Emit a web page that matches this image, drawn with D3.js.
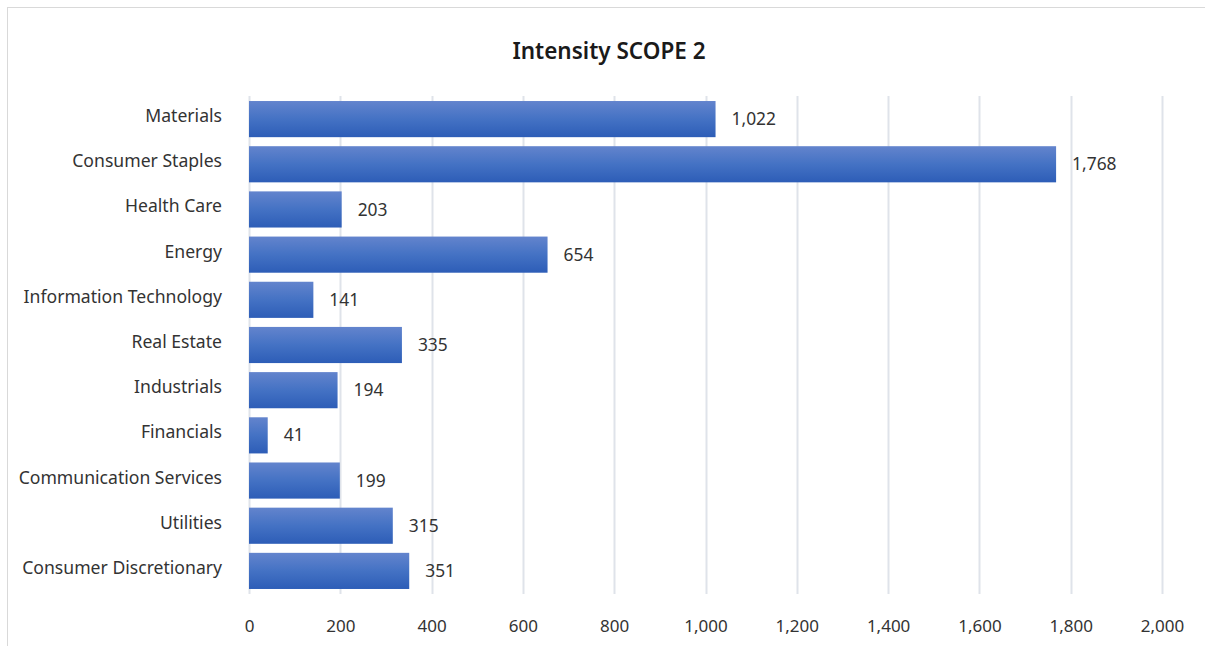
<!DOCTYPE html>
<html>
<head>
<meta charset="utf-8">
<script src="https://cdn.jsdelivr.net/npm/d3@7/dist/d3.min.js"></script>
<style>
  html, body { margin: 0; padding: 0; background: #ffffff; }
  svg { display: block; }
</style>
</head>
<body>
<svg id="chart" width="1205" height="646"></svg>
<script>
const categories = ["Materials", "Consumer Staples", "Health Care", "Energy", "Information Technology", "Real Estate", "Industrials", "Financials", "Communication Services", "Utilities", "Consumer Discretionary"];
const values = [1022, 1768, 203, 654, 141, 335, 194, 41, 199, 315, 351];
const tickValues = [0, 200, 400, 600, 800, 1000, 1200, 1400, 1600, 1800, 2000];
const title = "Intensity SCOPE 2";

const FONT = "'Noto Sans', 'Open Sans', sans-serif";
const TXT = "#333333";
const svg = d3.select("#chart");

// outer border (chart area frame)
svg.append("rect")
  .attr("x", 7.5).attr("y", 7.5)
  .attr("width", 1205).attr("height", 660)
  .attr("fill", "#ffffff")
  .attr("stroke", "#d9d9d9").attr("stroke-width", 1);

const x = d3.scaleLinear().domain([0, 2000]).range([249, 1162]);
const y = d3.scaleBand().domain(categories).range([96.5, 593.5]).paddingInner(0.2).paddingOuter(0.1);

// gradient
const defs = svg.append("defs");
const grad = defs.append("linearGradient").attr("id", "barGrad")
  .attr("x1", 0).attr("y1", 0).attr("x2", 0).attr("y2", 1);
grad.append("stop").attr("offset", "0%").attr("stop-color", "#6384cd");
grad.append("stop").attr("offset", "50%").attr("stop-color", "#4472c4");
grad.append("stop").attr("offset", "100%").attr("stop-color", "#2d5db7");

// gridlines
svg.append("g").selectAll("line").data(tickValues).join("line")
  .attr("x1", d => Math.round(x(d)) + 0.5).attr("x2", d => Math.round(x(d)) + 0.5)
  .attr("y1", 96).attr("y2", 594)
  .attr("stroke", "#dfe3ea").attr("stroke-width", 2);

// x axis labels
const xAxis = d3.axisBottom(x).tickValues(tickValues).tickSize(0).tickFormat(d3.format(","));
const gx = svg.append("g").attr("transform", "translate(0,617)").call(xAxis);
gx.select(".domain").remove();
gx.selectAll("text").attr("font-family", FONT).attr("font-size", 17).attr("fill", TXT);

// y axis labels
const yAxis = d3.axisLeft(y).tickSize(0).tickPadding(0);
const gy = svg.append("g").attr("transform", "translate(222,0)").call(yAxis);
gy.select(".domain").remove();
gy.selectAll("text").attr("font-family", FONT).attr("font-size", 17.6).attr("fill", TXT).attr("dy", "0.17em");

// bars
svg.append("g").selectAll("rect").data(categories).join("rect")
  .attr("x", x(0))
  .attr("y", d => y(d))
  .attr("width", (d, i) => x(values[i]) - x(0))
  .attr("height", y.bandwidth())
  .attr("fill", "url(#barGrad)");

// data labels
svg.append("g").selectAll("text").data(categories).join("text")
  .attr("x", (d, i) => x(values[i]) + 16)
  .attr("y", d => y(d) + y.bandwidth() / 2)
  .attr("dy", "0.35em")
  .attr("font-family", FONT).attr("font-size", 17.4).attr("fill", TXT)
  .text((d, i) => d3.format(",")(values[i]));

// title
svg.append("text")
  .attr("x", 609).attr("y", 51)
  .attr("text-anchor", "middle").attr("dy", "0.35em")
  .attr("font-family", FONT).attr("font-size", 22.5).attr("font-weight", 600).attr("fill", "#1a1a1a")
  .text(title);
</script>
</body>
</html>
